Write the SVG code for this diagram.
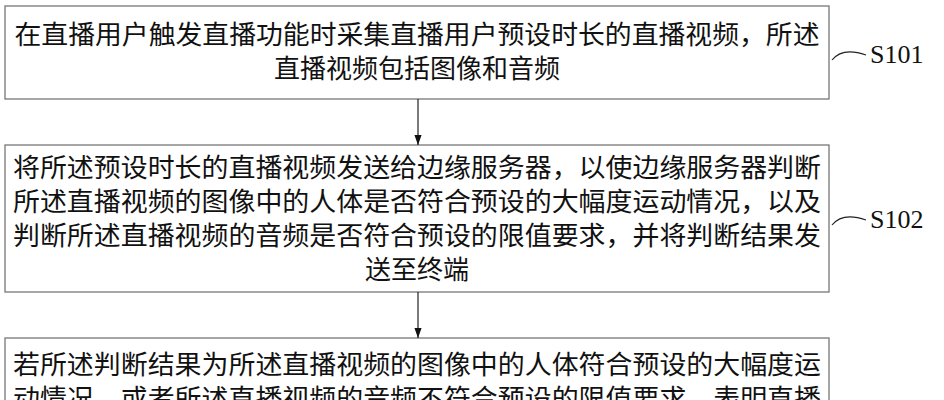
<svg xmlns="http://www.w3.org/2000/svg" width="944" height="400" viewBox="0 0 944 400">
<style>
.box{fill:#fff;stroke:#777;stroke-width:1.3}
.t{font-family:"Noto Sans CJK SC",sans-serif;font-size:26px;fill:#111;text-anchor:middle}
.s{font-family:"Liberation Serif",serif;font-size:26px;fill:#111}
.c{fill:none;stroke:#222;stroke-width:1.2}
</style>
<defs>
<marker id="b" markerWidth="10" markerHeight="14" refX="14" refY="5" orient="auto" markerUnits="userSpaceOnUse" viewBox="0 0 14 10"><path d="M0,0 L14,5 L0,10 Z" fill="#111"/></marker></defs>
<g id="n1"><rect class="box" x="5" y="6" width="824" height="93"/>
<text class="t" x="417" y="44" textLength="805" lengthAdjust="spacingAndGlyphs">在直播用户触发直播功能时采集直播用户预设时长的直播视频，所述</text>
<text class="t" x="417" y="78">直播视频包括图像和音频</text>
<path class="c" d="M832,60 C840,50 852,50 866,55"/><text class="s" x="870" y="63">S101</text></g>
<g id="n2"><rect class="box" x="5" y="145" width="824" height="147"/>
<text class="t" x="417" y="177" textLength="808" lengthAdjust="spacingAndGlyphs">将所述预设时长的直播视频发送给边缘服务器，以使边缘服务器判断</text>
<text class="t" x="417" y="211" textLength="808" lengthAdjust="spacingAndGlyphs">所述直播视频的图像中的人体是否符合预设的大幅度运动情况，以及</text>
<text class="t" x="417" y="245" textLength="808" lengthAdjust="spacingAndGlyphs">判断所述直播视频的音频是否符合预设的限值要求，并将判断结果发</text>
<text class="t" x="417" y="279">送至终端</text>
<path class="c" d="M832,225 C840,215 852,215 866,220"/><text class="s" x="870" y="228">S102</text></g>
<g id="n3"><rect class="box" x="5" y="338" width="824" height="80"/>
<text class="t" x="417" y="374" textLength="808" lengthAdjust="spacingAndGlyphs">若所述判断结果为所述直播视频的图像中的人体符合预设的大幅度运</text>
<text class="t" x="417" y="408" textLength="808" lengthAdjust="spacingAndGlyphs">动情况，或者所述直播视频的音频不符合预设的限值要求，表明直播</text></g>
<g id="connectors">
<line class="c" x1="418" y1="99" x2="418" y2="145" marker-end="url(#b)"/>
<line class="c" x1="418" y1="292" x2="418" y2="338" marker-end="url(#b)"/>
</g>
</svg>
